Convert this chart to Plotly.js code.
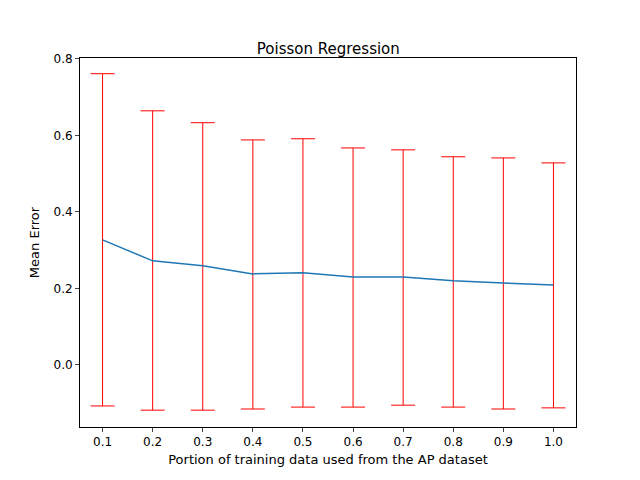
<!DOCTYPE html>
<html>
<head>
<script src="https://cdn.plot.ly/plotly-3.0.1.min.js"></script>
<style>body{margin:0}</style>
</head>
<body>
<div id="chart" style="width:640px;height:480px"></div>
<script>
const portions = [0.1, 0.2, 0.3, 0.4, 0.5, 0.6, 0.7, 0.8, 0.9, 1.0];
const meanError = [0.327, 0.272, 0.259, 0.238, 0.241, 0.230, 0.230, 0.220, 0.214, 0.209];
const upper = [0.761, 0.664, 0.633, 0.588, 0.591, 0.567, 0.562, 0.544, 0.541, 0.528];
const lower = [-0.107, -0.118, -0.118, -0.115, -0.110, -0.110, -0.105, -0.110, -0.115, -0.112];

const plus = upper.map((u, i) => u - meanError[i]);
const minus = lower.map((l, i) => meanError[i] - l);

Plotly.newPlot("chart", [{
  x: portions,
  y: meanError,
  type: "scatter",
  mode: "lines",
  line: { color: "#1f77b4", width: 1.5 },
  error_y: {
    type: "data", symmetric: false,
    array: plus, arrayminus: minus,
    color: "red", thickness: 1, width: 12,
  },
}], {
  width: 640, height: 480,
  paper_bgcolor: "white", plot_bgcolor: "white",
  font: { family: "DejaVu Sans", size: 12, color: "black" },
  margin: { l: 80, r: 64, t: 58, b: 53 },
  showlegend: false,
  title: { text: "Poisson Regression", x: 0.513, xanchor: "center", y: 0.91, font: { size: 15 } },
  xaxis: {
    range: [0.055, 1.045],
    tickvals: portions,
    ticktext: portions.map((p) => p.toFixed(1)),
    ticks: "outside", ticklen: 4, showgrid: false, zeroline: false,
    showline: true, mirror: true, linecolor: "black", linewidth: 1,
    title: { text: "Portion of training data used from the AP dataset", standoff: 6, font: { size: 13 } },
  },
  yaxis: {
    range: [-0.162, 0.802],
    tickvals: [0.0, 0.2, 0.4, 0.6, 0.8],
    ticktext: ["0.0", "0.2", "0.4", "0.6", "0.8"],
    ticks: "outside", ticklen: 4, showgrid: false, zeroline: false,
    showline: true, mirror: true, linecolor: "black", linewidth: 1,
    title: { text: "Mean Error", standoff: 10, font: { size: 13 } },
  },
}, { displayModeBar: false });
</script>
</body>
</html>
